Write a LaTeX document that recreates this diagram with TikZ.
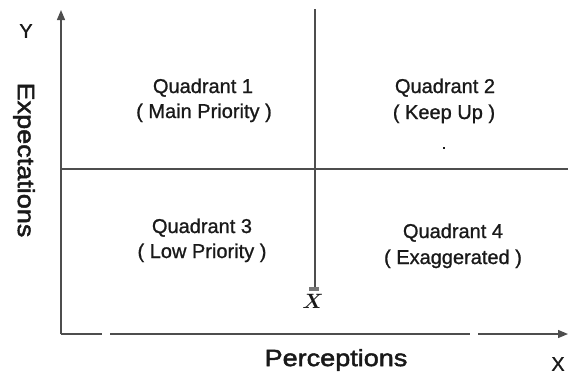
\documentclass[tikz,border=0pt]{standalone}
\usepackage{fontspec}
\setmainfont{Liberation Sans}
\newfontfamily\quadfont[FakeBold=1.0]{Liberation Sans}
\newfontfamily\axisfont[FakeStretch=1.15,FakeBold=2.0]{Liberation Sans}
\usetikzlibrary{arrows.meta}
\definecolor{axisgray}{RGB}{78,78,78}
\definecolor{bargray}{RGB}{120,120,120}
\definecolor{ink}{RGB}{25,25,25}
\begin{document}
\begin{tikzpicture}[x=1pt,y=-1pt,
  axisline/.style={draw=axisgray,line width=1.3pt},
  arrowline/.style={axisline,-{Triangle[length=10pt,width=8pt]}},
  quadtext/.style={anchor=base,text=ink,font=\quadfont\fontsize{20}{24}\selectfont,inner sep=0pt},
  axistitle/.style={text=ink,font=\axisfont\fontsize{23.5}{28}\selectfont,inner sep=0pt},
  axisletter/.style={text=ink,font=\quadfont\fontsize{20}{24}\selectfont,inner sep=0pt}]
\useasboundingbox (0,0) rectangle (574,376);

% axis and divider end points
\coordinate (origin) at (61,334);
\coordinate (ytip)   at (61,10);
\coordinate (seg1)   at (102,334);
\coordinate (seg2a)  at (110,334);
\coordinate (seg2b)  at (470,334);
\coordinate (seg3)   at (478,334);
\coordinate (xtip)   at (568,334);
\coordinate (hleft)  at (61,169);
\coordinate (hright) at (568,169);
\coordinate (vtop)   at (315,9);

% grand mean marker where the vertical divider ends
\node[text=ink,font=\fontsize{22}{24}\selectfont\boldmath,inner sep=0pt] (mean) at (313,301) {$X$};
\fill[bargray] (309,287) rectangle (319,291);
\coordinate (meanbar) at (315,287);

% axes
\draw[arrowline] (origin) -- (ytip);
\draw[axisline] (origin) -- (seg1);
\draw[axisline] (seg2a) -- (seg2b);
\draw[arrowline] (seg3) -- (xtip);

% quadrant dividers
\draw[axisline,line width=1.1pt] (hleft) -- (hright);
\draw[axisline,line width=1.1pt] (vtop) -- (meanbar);

% axis labels
\node[axisletter] (ylab) at (26,31) {Y};
\node[axisletter] (xlab) at (558,364) {X};
\node[axistitle] (perc) at (336,360) {Perceptions};
\node[axistitle,rotate=-90] (expe) at (24,160) {Expectations};

% quadrant captions
\node[quadtext] (q1a) at (203,93) {Quadrant 1};
\node[quadtext] (q1b) at (204,118) {( Main Priority )};
\node[quadtext] (q2a) at (445,93) {Quadrant 2};
\node[quadtext] (q2b) at (444,119) {( Keep Up )};
\node[quadtext] (q3a) at (202,233) {Quadrant 3};
\node[quadtext] (q3b) at (202,258) {( Low Priority )};
\node[quadtext] (q4a) at (453,238) {Quadrant 4};
\node[quadtext] (q4b) at (453,264) {( Exaggerated )};

% small dot in the second quadrant
\fill[ink] (443,147) rectangle (445,149);
\end{tikzpicture}
\end{document}
